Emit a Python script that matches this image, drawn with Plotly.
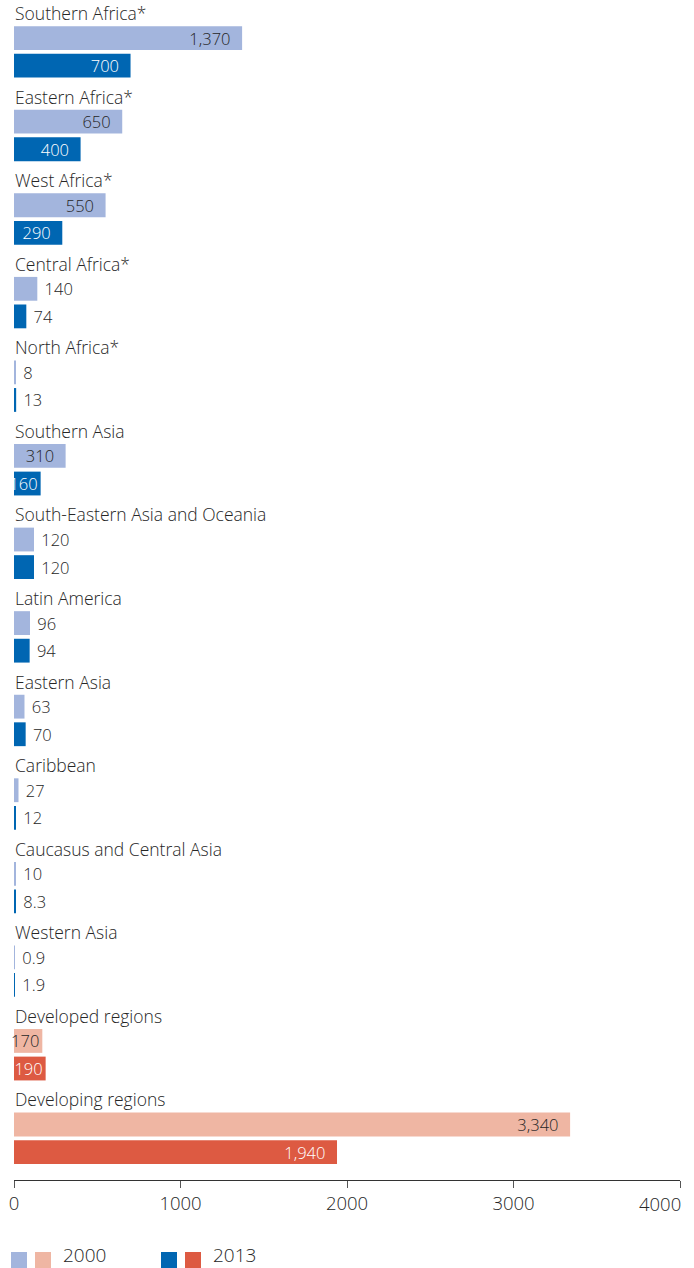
import plotly.graph_objects as go

regions = [
    "Southern Africa*", "Eastern Africa*", "West Africa*", "Central Africa*",
    "North Africa*", "Southern Asia", "South-Eastern Asia and Oceania",
    "Latin America", "Eastern Asia", "Caribbean", "Caucasus and Central Asia",
    "Western Asia", "Developed regions", "Developing regions",
]
values_2000 = [1370, 650, 550, 140, 8, 310, 120, 96, 63, 27, 10, 0.9, 170, 3340]
values_2013 = [700, 400, 290, 74, 13, 160, 120, 94, 70, 12, 8.3, 1.9, 190, 1940]
aggregate_groups = ["Developed regions", "Developing regions"]
x_ticks = [0, 1000, 2000, 3000, 4000]
legend_labels = ["2000", "2013"]

LIGHT_BLUE = "#A3B5DD"
DARK_BLUE = "#0066B2"
LIGHT_RED = "#EFB6A3"
DARK_RED = "#DD5A42"
TEXT = "#262626"
FONT = "Open Sans"
W = 300
NB = "\u00a0"

is_agg = [r in aggregate_groups for r in regions]
c2000 = [LIGHT_RED if a else LIGHT_BLUE for a in is_agg]
c2013 = [DARK_RED if a else DARK_BLUE for a in is_agg]


def fmt(v):
    return f"{v:,}"


def positions(vals):
    return ["inside" if v >= 150 else "outside" for v in vals]


def labels(vals):
    out = []
    for v in vals:
        s = fmt(v)
        if v >= 250:
            s = s + NB + NB
        elif v < 150:
            s = NB + s
        out.append(s)
    return out


idx = list(range(len(regions)))
y_label = idx
y_2000 = [i + 0.30 for i in idx]
y_2013 = [i + 0.63 for i in idx]
BAR_W = 0.285
VAL_SIZE = 16.5

fig = go.Figure()
fig.add_trace(go.Bar(
    x=values_2000, y=y_2000, orientation="h", width=BAR_W,
    marker=dict(color=c2000, line=dict(width=0)),
    text=labels(values_2000), textposition=positions(values_2000),
    insidetextanchor="end", textangle=0,
    insidetextfont=dict(family=FONT, size=VAL_SIZE, color=TEXT, weight=W),
    outsidetextfont=dict(family=FONT, size=VAL_SIZE, color=TEXT, weight=W),
    cliponaxis=False, hoverinfo="skip", name=legend_labels[0], showlegend=False,
))
fig.add_trace(go.Bar(
    x=values_2013, y=y_2013, orientation="h", width=BAR_W,
    marker=dict(color=c2013, line=dict(width=0)),
    text=labels(values_2013), textposition=positions(values_2013),
    insidetextanchor="end", textangle=0,
    insidetextfont=dict(family=FONT, size=VAL_SIZE, color="white", weight=W),
    outsidetextfont=dict(family=FONT, size=VAL_SIZE, color=TEXT, weight=W),
    cliponaxis=False, hoverinfo="skip", name=legend_labels[1], showlegend=False,
))

annotations = []
for name, yl in zip(regions, y_label):
    annotations.append(dict(
        x=0, y=yl, xref="x", yref="y", text=name, showarrow=False,
        xanchor="left", yanchor="middle", xshift=-1,
        font=dict(family=FONT, size=17.5, color=TEXT, weight=W),
    ))

# last tick label right-aligned to the axis end
annotations.append(dict(
    x=x_ticks[-1], y=0, xref="x", yref="paper", text=str(x_ticks[-1]),
    showarrow=False, xanchor="right", yanchor="middle", xshift=3, yshift=-23,
    font=dict(family=FONT, size=18.5, color=TEXT, weight=W),
))

# custom legend: two swatches per year
shapes = []
legend_swatches = [[LIGHT_BLUE, LIGHT_RED], [DARK_BLUE, DARK_RED]]
legend_x = [-3, 147]
for lab, sw, lx in zip(legend_labels, legend_swatches, legend_x):
    for k, col in enumerate(sw):
        shapes.append(dict(
            type="rect", xref="paper", yref="paper",
            xsizemode="pixel", ysizemode="pixel", xanchor=0, yanchor=0,
            x0=lx + k * 24, x1=lx + k * 24 + 16, y0=-72, y1=-88,
            fillcolor=col, line=dict(width=0),
        ))
    annotations.append(dict(
        x=0, y=0, xref="paper", yref="paper", text=lab, showarrow=False,
        xanchor="left", yanchor="middle", xshift=lx + 50, yshift=-75,
        font=dict(family=FONT, size=19, color=TEXT, weight=W),
    ))

fig.update_layout(
    width=694, height=1268,
    margin=dict(l=14, r=14, t=0, b=88),
    paper_bgcolor="white", plot_bgcolor="white",
    barmode="overlay", showlegend=False,
    uniformtext=dict(minsize=VAL_SIZE, mode="show"),
    xaxis=dict(
        range=[0, 4000], tickvals=x_ticks,
        ticktext=[str(t) for t in x_ticks[:-1]] + [""],
        showgrid=False, zeroline=False,
        showline=True, linecolor="#333333", linewidth=1,
        ticks="outside", ticklen=7, tickcolor="#555555", tickwidth=1,
        tickfont=dict(family=FONT, size=18.5, color=TEXT, weight=W),
        fixedrange=True,
    ),
    yaxis=dict(range=[13.964, -0.156], visible=False, fixedrange=True),
    annotations=annotations, shapes=shapes,
    hovermode=False,
)

fig.write_html(
    "out.html",
    config={"displayModeBar": False},
    post_script="document.body.style.margin='0';document.body.style.overflow='hidden';",
)
